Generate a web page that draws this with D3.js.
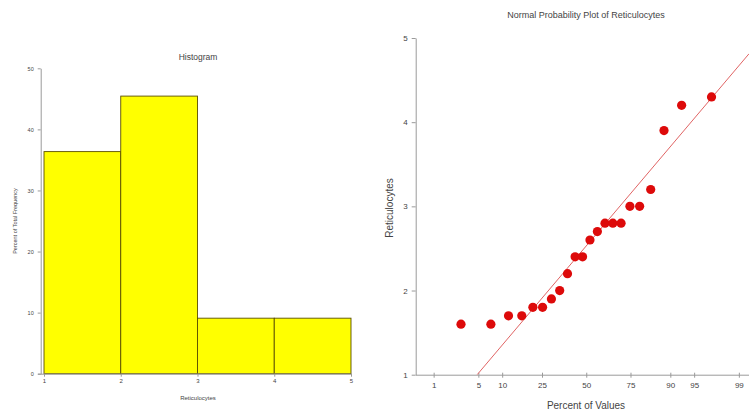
<!DOCTYPE html>
<html>
<head>
<meta charset="utf-8">
<script src="https://cdn.jsdelivr.net/npm/d3@7"></script>
<style>
  html, body { margin: 0; padding: 0; background: #fff; }
  svg { display: block; font-family: "Liberation Sans", Arial, sans-serif; }
</style>
</head>
<body>
<svg id="chart" width="749" height="416"></svg>
<script>
// Histogram: bin edges and percent of total frequency per bin
const binEdges = [1, 2, 3, 4, 5];
const binPercents = [36.36, 45.45, 9.09, 9.09];
const histYTicks = [0, 10, 20, 30, 40, 50];

// Normal probability plot: sorted reticulocyte values and their plotting percents
const reticValues = [1.6, 1.6, 1.7, 1.7, 1.8, 1.8, 1.9, 2.0, 2.2, 2.4, 2.4,
                     2.6, 2.7, 2.8, 2.8, 2.8, 3.0, 3.0, 3.2, 3.9, 4.2, 4.3];
const reticPercents = [2.81, 7.30, 11.80, 16.29, 20.79, 25.28, 29.78, 34.27, 38.76, 43.26, 47.75,
                       52.25, 56.74, 61.24, 65.73, 70.22, 74.72, 79.21, 83.71, 88.20, 92.70, 97.19];
const percentTicks = [1, 5, 10, 25, 50, 75, 90, 95, 99];
const probYTicks = [1, 2, 3, 4, 5];
// reference normal line: value = fitMean + fitSd * z
const fitMean = 2.53;
const fitSd = 0.92;

// inverse standard normal CDF (Acklam's rational approximation)
function probit(p) {
  const a = [-3.969683028665376e+01, 2.209460984245205e+02, -2.759285104469687e+02,
             1.383577518672690e+02, -3.066479806614716e+01, 2.506628277459239e+00];
  const b = [-5.447609879822406e+01, 1.615858368580409e+02, -1.556989798598866e+02,
             6.680131188771972e+01, -1.328068155288572e+01];
  const c = [-7.784894002430293e-03, -3.223964580411365e-01, -2.400758277161838e+00,
             -2.549732539343734e+00, 4.374664141464968e+00, 2.938163982698783e+00];
  const d = [7.784695709041462e-03, 3.224671290700398e-01, 2.445134137142996e+00,
             3.754408661907416e+00];
  const pl = 0.02425, ph = 1 - pl;
  let q, r;
  if (p < pl) {
    q = Math.sqrt(-2 * Math.log(p));
    return (((((c[0]*q+c[1])*q+c[2])*q+c[3])*q+c[4])*q+c[5]) / ((((d[0]*q+d[1])*q+d[2])*q+d[3])*q+1);
  }
  if (p <= ph) {
    q = p - 0.5; r = q * q;
    return (((((a[0]*r+a[1])*r+a[2])*r+a[3])*r+a[4])*r+a[5])*q / (((((b[0]*r+b[1])*r+b[2])*r+b[3])*r+b[4])*r+1);
  }
  q = Math.sqrt(-2 * Math.log(1 - p));
  return -(((((c[0]*q+c[1])*q+c[2])*q+c[3])*q+c[4])*q+c[5]) / ((((d[0]*q+d[1])*q+d[2])*q+d[3])*q+1);
}

const svg = d3.select("#chart");
const axisColor = "#9a9a9a";
const textColor = "#444";
const intFormat = d3.format("d");

function styleAxis(g, fontSize) {
  g.selectAll(".domain").attr("stroke", axisColor).attr("stroke-width", 1);
  g.selectAll(".tick line").attr("stroke", axisColor);
  g.selectAll(".tick text").attr("fill", textColor).attr("font-size", fontSize)
    .attr("font-family", "'Liberation Sans', Arial, sans-serif");
}

// ---------- Histogram ----------
const hx = d3.scaleLinear().domain([1, 5]).range([44, 351]);
const hy = d3.scaleLinear().domain([0, 50]).range([373.7, 68.3]);

const hist = svg.append("g");

hist.selectAll("rect.bin")
  .data(binPercents)
  .join("rect")
  .attr("class", "bin")
  .attr("x", (d, i) => hx(binEdges[i]))
  .attr("width", (d, i) => hx(binEdges[i + 1]) - hx(binEdges[i]))
  .attr("y", d => hy(d))
  .attr("height", d => hy(0) - hy(d))
  .attr("fill", "#ffff00")
  .attr("stroke", "#5a4e00")
  .attr("stroke-width", 0.9);

const hYAxis = hist.append("g")
  .attr("transform", "translate(40.7,0)")
  .call(d3.axisLeft(hy).tickValues(histYTicks).tickFormat(intFormat)
    .tickSize(3).tickSizeOuter(0).tickPadding(4));
styleAxis(hYAxis, 5.5);

const hXAxis = hist.append("g")
  .attr("transform", `translate(0,${hy(0)})`)
  .call(d3.axisBottom(hx).tickValues(binEdges).tickFormat(intFormat)
    .tickSize(3).tickSizeOuter(0).tickPadding(2));
styleAxis(hXAxis, 6);
hXAxis.select(".domain").attr("d", `M38,0.5H${hx(5)}`);

hist.append("text")
  .attr("x", 198).attr("y", 60)
  .attr("text-anchor", "middle").attr("font-size", 8.5).attr("fill", textColor)
  .text("Histogram");

hist.append("text")
  .attr("x", 198).attr("y", 400)
  .attr("text-anchor", "middle").attr("font-size", 6).attr("fill", textColor)
  .text("Reticulocytes");

hist.append("text")
  .attr("transform", "translate(17,221) rotate(-90)")
  .attr("text-anchor", "middle").attr("font-size", 5.5).attr("fill", textColor)
  .text("Percent of Total Frequency");

// ---------- Normal probability plot ----------
const pz = d3.scaleLinear().domain([-2.603, 2.481]).range([415.5, 749]);
const px = p => pz(probit(p / 100));
const py = d3.scaleLinear().domain([1, 5]).range([374.7, 38]);

const prob = svg.append("g");

const pYAxis = prob.append("g")
  .attr("transform", "translate(415.7,0)")
  .call(d3.axisLeft(py).tickValues(probYTicks).tickFormat(intFormat)
    .tickSize(4).tickSizeOuter(0).tickPadding(4));
styleAxis(pYAxis, 8);

const pXAxis = prob.append("g")
  .attr("transform", `translate(0,${py(1)})`)
  .call(d3.axisBottom(pz).tickValues(percentTicks.map(p => probit(p / 100)))
    .tickFormat((d, i) => percentTicks[i]).tickSize(3).tickSizeOuter(0).tickPadding(5));
styleAxis(pXAxis, 8);
pXAxis.selectAll(".tick line").attr("y1", -2);

// fitted normal reference line, clipped to the plotting area
prob.append("clipPath").attr("id", "probClip")
  .append("rect").attr("x", 416).attr("y", 38).attr("width", 333).attr("height", py(1) - 38);

const zStart = (1 - fitMean) / fitSd;
const zEnd = pz.domain()[1];
prob.append("line")
  .attr("clip-path", "url(#probClip)")
  .attr("x1", pz(zStart)).attr("y1", py(fitMean + fitSd * zStart))
  .attr("x2", pz(zEnd)).attr("y2", py(fitMean + fitSd * zEnd))
  .attr("stroke", "#e06464").attr("stroke-width", 1);

prob.selectAll("circle.pt")
  .data(reticValues)
  .join("circle")
  .attr("class", "pt")
  .attr("cx", (d, i) => px(reticPercents[i]))
  .attr("cy", d => py(d))
  .attr("r", 4.6)
  .attr("fill", "#dd0a0a");

prob.append("text")
  .attr("x", 586).attr("y", 18)
  .attr("text-anchor", "middle").attr("font-size", 9).attr("fill", textColor)
  .text("Normal Probability Plot of Reticulocytes");

prob.append("text")
  .attr("x", 586).attr("y", 409)
  .attr("text-anchor", "middle").attr("font-size", 10).attr("fill", textColor)
  .text("Percent of Values");

prob.append("text")
  .attr("transform", "translate(393,208) rotate(-90)")
  .attr("text-anchor", "middle").attr("font-size", 10).attr("fill", textColor)
  .text("Reticulocytes");
</script>
</body>
</html>
